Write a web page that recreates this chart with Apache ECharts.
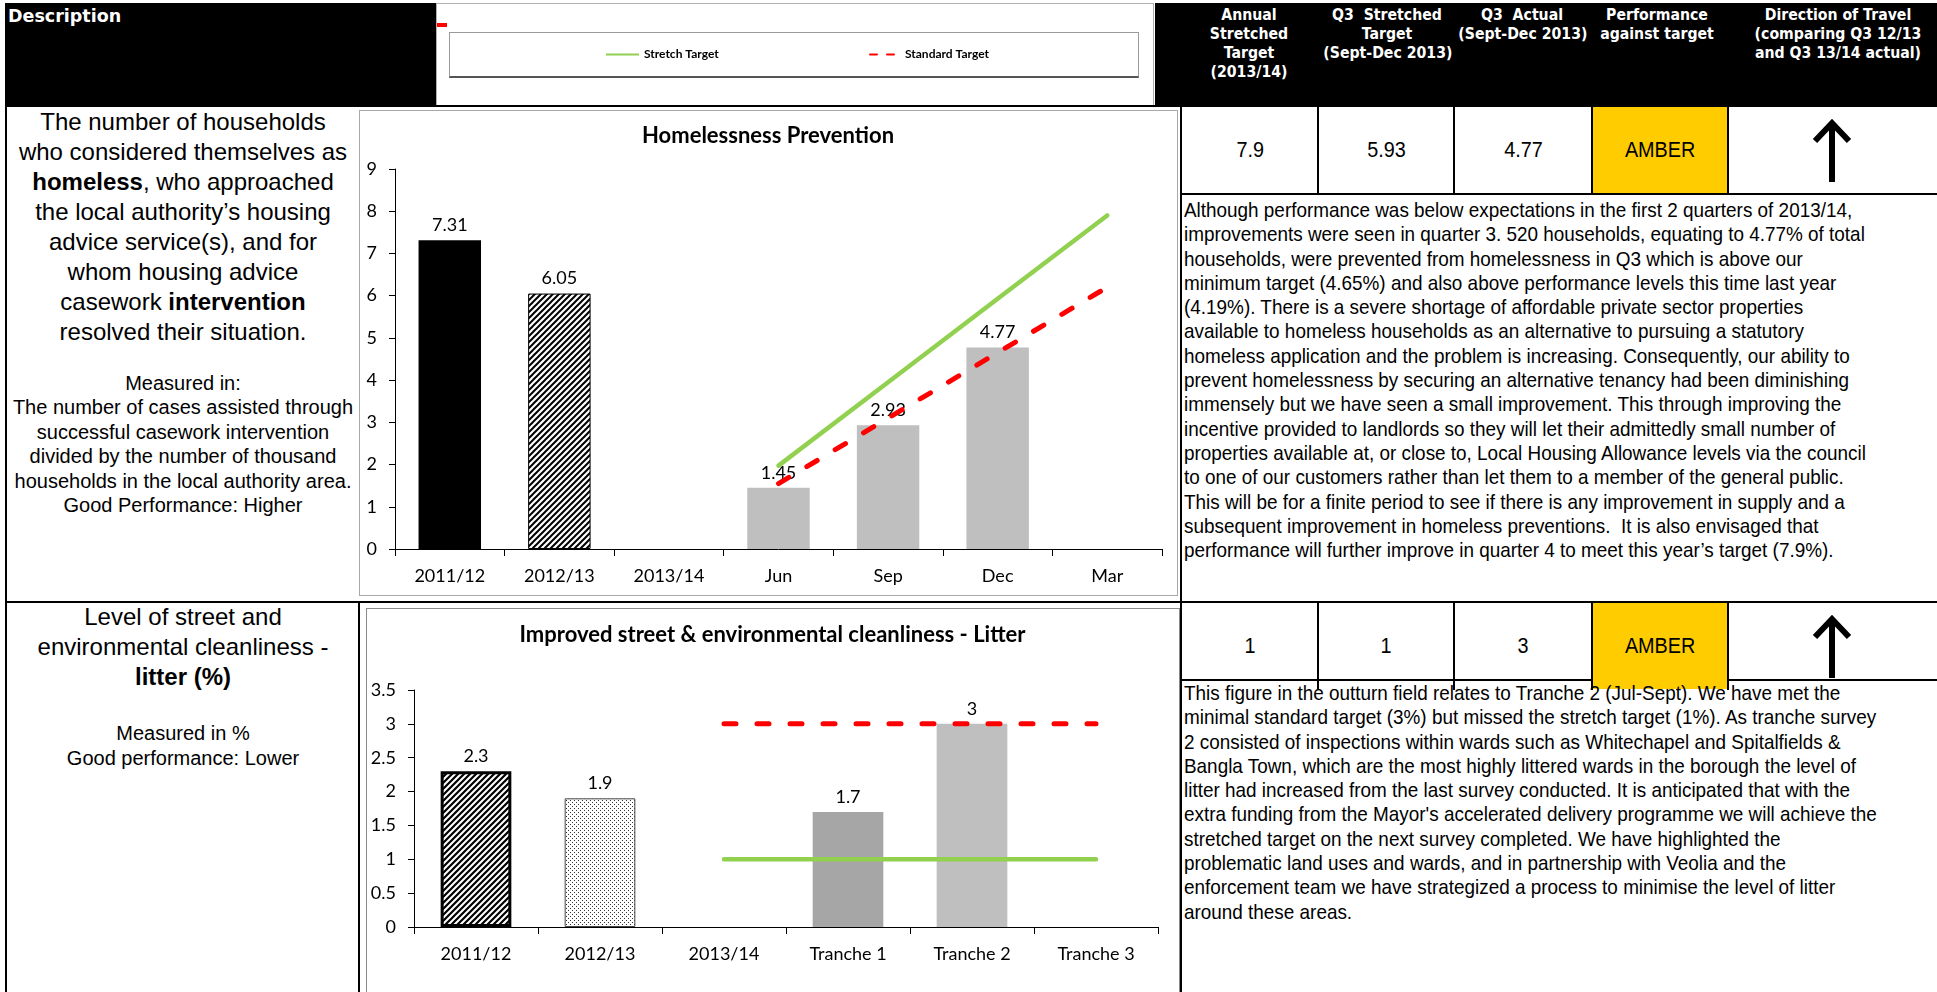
<!DOCTYPE html>
<html>
<head>
<meta charset="utf-8">
<title>Performance report</title>
<script src="https://cdn.jsdelivr.net/npm/echarts@6/dist/echarts.min.js"></script>
<style>
html,body{margin:0;padding:0;background:#fff;}
body{width:1937px;height:992px;overflow:hidden;position:relative;font-family:"Liberation Sans",Arial,sans-serif;color:#000;}
.a{position:absolute;}
.blk{background:#000;}
.hd{position:absolute;color:#fff;font-family:"DejaVu Sans",Verdana,sans-serif;font-weight:bold;font-size:15.5px;line-height:19px;text-align:center;white-space:nowrap;transform:scaleX(0.91);}
.desc{position:absolute;left:7px;width:352px;text-align:center;white-space:nowrap;}
.cell{position:absolute;display:flex;align-items:center;justify-content:center;font-size:22px;}
.cell span{display:inline-block;transform:scaleX(0.9);}
.amber{background:#FFCC00;}
.para{position:absolute;left:1184px;font-size:21px;line-height:24.3px;white-space:nowrap;transform:scaleX(0.9);transform-origin:0 0;}
.frame{position:absolute;box-sizing:border-box;border:1px solid #a8a8a8;pointer-events:none;}
</style>
</head>
<body>

<!-- header -->
<div class="a blk" style="left:5px;top:3px;width:431px;height:104px;"></div>
<div class="a blk" style="left:1155px;top:3px;width:782px;height:104px;"></div>
<div class="a" style="left:436px;top:3px;width:718px;height:102px;box-sizing:border-box;border:1px solid #b0b0b0;border-bottom:none;"></div>
<div class="a" style="left:437px;top:23px;width:10px;height:4px;background:#ff0000;"></div>
<div class="hd" style="left:8px;top:5px;text-align:left;font-size:17.5px;line-height:22px;transform:none;">Description</div>
<div class="hd" style="left:1179px;width:140px;top:6px;">Annual<br>Stretched<br>Target<br>(2013/14)</div>
<div class="hd" style="left:1317px;width:140px;top:6px;">Q3&nbsp; Stretched<br>Target<br>(Sept-Dec 2013)</div>
<div class="hd" style="left:1452px;width:140px;top:6px;">Q3&nbsp; Actual<br>(Sept-Dec 2013)</div>
<div class="hd" style="left:1587px;width:140px;top:6px;">Performance<br>against target</div>
<div class="hd" style="left:1738px;width:200px;top:6px;">Direction of Travel<br>(comparing Q3 12/13<br>and Q3 13/14 actual)</div>

<!-- legend box -->
<div id="legend" class="a" style="left:449px;top:32px;width:690px;height:45px;"></div>
<div class="frame" style="left:449px;top:32px;width:690px;height:46px;border-color:#9a9a9a;border-bottom:2px solid #555;"></div>

<!-- grid lines of the table -->
<div class="a blk" style="left:5px;top:105px;width:1932px;height:2px;"></div>
<div class="a blk" style="left:5px;top:601px;width:1932px;height:2px;"></div>
<div class="a blk" style="left:5px;top:105px;width:2px;height:890px;"></div>
<div class="a blk" style="left:358px;top:601px;width:2px;height:394px;"></div>
<div class="a blk" style="left:1180px;top:105px;width:2px;height:890px;"></div>
<div class="a blk" style="left:1181px;top:193px;width:756px;height:2px;"></div>
<div class="a blk" style="left:1181px;top:679px;width:756px;height:2px;"></div>

<!-- charts -->
<div id="hp" class="a" style="left:359px;top:110px;width:818px;height:485px;"></div>
<div class="frame" style="left:359px;top:110px;width:819px;height:486px;"></div>
<div id="lit" class="a" style="left:366px;top:608px;width:813px;height:387px;"></div>
<div class="frame" style="left:366px;top:608px;width:814px;height:400px;border-color:#8a8a8a;"></div>

<!-- descriptions -->
<div class="desc" style="top:107px;font-size:24px;line-height:30px;">The number of households<br>who considered themselves as<br><b>homeless</b>, who approached<br>the local authority’s housing<br>advice service(s), and for<br>whom housing advice<br>casework <b>intervention</b><br>resolved their situation.</div>
<div class="desc" style="top:371px;font-size:20px;line-height:24.4px;">Measured in:<br>The number of cases assisted through<br>successful casework intervention<br>divided by the number of thousand<br>households in the local authority area.<br>Good Performance: Higher</div>
<div class="desc" style="top:602px;font-size:24px;line-height:30px;">Level of street and<br>environmental cleanliness -<br><b>litter (%)</b></div>
<div class="desc" style="top:721px;font-size:20px;line-height:25px;">Measured in %<br>Good performance: Lower</div>

<div id="cells"></div>

<div class="para" style="top:198px;">Although performance was below expectations in the first 2 quarters of 2013/14,<br>improvements were seen in quarter 3. 520 households, equating to 4.77% of total<br>households, were prevented from homelessness in Q3 which is above our<br>minimum target (4.65%) and also above performance levels this time last year<br>(4.19%). There is a severe shortage of affordable private sector properties<br>available to homeless households as an alternative to pursuing a statutory<br>homeless application and the problem is increasing. Consequently, our ability to<br>prevent homelessness by securing an alternative tenancy had been diminishing<br>immensely but we have seen a small improvement. This through improving the<br>incentive provided to landlords so they will let their admittedly small number of<br>properties available at, or close to, Local Housing Allowance levels via the council<br>to one of our customers rather than let them to a member of the general public.<br>This will be for a finite period to see if there is any improvement in supply and a<br>subsequent improvement in homeless preventions.&nbsp; It is also envisaged that<br>performance will further improve in quarter 4 to meet this year’s target (7.9%).</div>
<div class="para" style="top:681px;">This figure in the outturn field relates to Tranche 2 (Jul-Sept). We have met the<br>minimal standard target (3%) but missed the stretch target (1%). As tranche survey<br>2 consisted of inspections within wards such as Whitechapel and Spitalfields &amp;<br>Bangla Town, which are the most highly littered wards in the borough the level of<br>litter had increased from the last survey conducted. It is anticipated that with the<br>extra funding from the Mayor's accelerated delivery programme we will achieve the<br>stretched target on the next survey completed. We have highlighted the<br>problematic land uses and wards, and in partnership with Veolia and the<br>enforcement team we have strategized a process to minimise the level of litter<br>around these areas.</div>

<script>
// Homelessness prevention
const hpCats = ['2011/12', '2012/13', '2013/14', 'Jun', 'Sep', 'Dec', 'Mar'];
const hpActual = [7.31, 6.05, null, 1.45, 2.93, 4.77, null];
const hpStretch = [null, null, null, 1.975, 3.95, 5.925, 7.9];
const hpStandard = [null, null, null, 1.55, 3.1, 4.65, 6.2];
const hpTicks = [0, 9, 1];

// street cleanliness - litter
const litCats = ['2011/12', '2012/13', '2013/14', 'Tranche 1', 'Tranche 2', 'Tranche 3'];
const litActual = [2.3, 1.9, null, 1.7, 3, null];
const litStretch = [null, null, 1, 1, 1, 1];
const litStandard = [null, null, 3, 3, 3, 3];
const litTicks = [0, 3.5, 0.5];

// table cells
const annualTarget = ['7.9', '1'];
const q3Target = ['5.93', '1'];
const q3Actual = ['4.77', '3'];
const performance = ['AMBER', 'AMBER'];

const rowTops = [107, 603];
const cols = [1182, 1318, 1454, 1592, 1728, 1937];
let html = '';
rowTops.forEach(function (top, r) {
    const vals = [annualTarget[r], q3Target[r], q3Actual[r], performance[r]];
    vals.forEach(function (v, c) {
        const cls = c === 3 ? 'cell amber' : 'cell';
        html += '<div class="' + cls + '" style="left:' + cols[c] + 'px;top:' + top + 'px;width:' + (cols[c + 1] - cols[c]) + 'px;height:86px;"><span>' + v + '</span></div>';
        if (c > 0) html += '<div class="a blk" style="left:' + (cols[c] - 1) + 'px;top:' + top + 'px;width:2px;height:87px;"></div>';
    });
    html += '<div class="a blk" style="left:1727px;top:' + top + 'px;width:2px;height:87px;"></div>';
    // direction of travel arrow
    html += '<svg class="a" style="left:1812px;top:' + (top + 11) + 'px;" width="40" height="66"><path d="M20 64 V6 M3 23 L20 5 L37 23" stroke="#000" stroke-width="6" fill="none"/></svg>';
});
document.getElementById('cells').innerHTML = html;

const FONT = 'Lato';

function hatch(size, lw) {
    const c = document.createElement('canvas');
    c.width = c.height = size;
    const g = c.getContext('2d');
    g.fillStyle = '#fff';
    g.fillRect(0, 0, size, size);
    g.strokeStyle = '#000';
    g.lineWidth = lw;
    g.beginPath();
    g.moveTo(0, size); g.lineTo(size, 0);
    g.moveTo(-size / 2, size / 2); g.lineTo(size / 2, -size / 2);
    g.moveTo(size / 2, size * 1.5); g.lineTo(size * 1.5, size / 2);
    g.stroke();
    return c;
}
function dots() {
    const c = document.createElement('canvas');
    c.width = c.height = 4;
    const g = c.getContext('2d');
    g.fillStyle = '#fff';
    g.fillRect(0, 0, 4, 4);
    g.fillStyle = '#333';
    g.fillRect(0, 0, 1, 1);
    g.fillRect(2, 2, 1, 1);
    return c;
}

const grey = { color: '#BFBFBF' };
const hpStyles = [
    { color: '#000' },
    { color: { image: hatch(6, 2), repeat: 'repeat' }, borderColor: '#000', borderWidth: 1 },
    null, grey, grey, grey, null
];
const litStyles = [
    { color: { image: hatch(6, 2.2), repeat: 'repeat' }, borderColor: '#000', borderWidth: 3 },
    { color: { image: dots(), repeat: 'repeat' }, borderColor: '#444', borderWidth: 1 },
    null, { color: '#A6A6A6' }, grey, null
];

function barData(vals, styles) {
    return vals.map(function (v, i) {
        return v == null ? '-' : { value: v, itemStyle: styles[i] };
    });
}
function lineData(vals) {
    return vals.map(function (v) { return v == null ? '-' : v; });
}

function makeOption(title, cats, actual, styles, stretch, standard, ticks, grid, titleTop) {
    return {
        animation: false,
        backgroundColor: '#fff',
        textStyle: { fontFamily: FONT },
        title: {
            text: title,
            left: 'center',
            top: titleTop,
            textStyle: { fontFamily: FONT, fontWeight: 'bold', fontSize: 22, color: '#000' }
        },
        grid: Object.assign({ containLabel: false, outerBoundsMode: 'none' }, grid),
        xAxis: {
            type: 'category',
            data: cats,
            boundaryGap: true,
            axisLine: { show: true, lineStyle: { color: '#000', width: 1 } },
            axisTick: { show: true, length: 7, interval: 0, lineStyle: { color: '#000' } },
            axisLabel: { interval: 0, color: '#000', fontFamily: FONT, fontSize: 18, margin: 18 },
            splitLine: { show: false }
        },
        yAxis: {
            type: 'value',
            min: ticks[0],
            max: ticks[1],
            interval: ticks[2],
            axisLine: { show: true, lineStyle: { color: '#000', width: 1 } },
            axisTick: { show: true, length: 6, lineStyle: { color: '#000' } },
            axisLabel: { color: '#000', fontFamily: FONT, fontSize: 18, margin: 18 },
            splitLine: { show: false }
        },
        series: [
            {
                name: 'Actual',
                type: 'bar',
                barWidth: '57%',
                data: barData(actual, styles),
                label: { show: true, position: 'top', distance: 6, color: '#000', fontFamily: FONT, fontSize: 18 }
            },
            {
                name: 'Stretch Target',
                type: 'line',
                symbol: 'none',
                data: lineData(stretch),
                itemStyle: { color: '#92D050' },
                lineStyle: { color: '#92D050', width: 4.5, cap: 'round' },
                z: 3
            },
            {
                name: 'Standard Target',
                type: 'line',
                symbol: 'none',
                data: lineData(standard),
                itemStyle: { color: '#FF0000' },
                lineStyle: { color: '#FF0000', width: 5, type: [12, 21], cap: 'round' },
                z: 3
            }
        ]
    };
}

const hpChart = echarts.init(document.getElementById('hp'));
hpChart.setOption(makeOption('Homelessness Prevention', hpCats, hpActual, hpStyles, hpStretch, hpStandard, hpTicks,
    { left: 36, right: 15, top: 59, bottom: 46 }, 10));

const litChart = echarts.init(document.getElementById('lit'));
litChart.setOption(makeOption('Improved street & environmental cleanliness - Litter', litCats, litActual, litStyles, litStretch, litStandard, litTicks,
    { left: 48, right: 21, top: 82, bottom: 68 }, 11));

// legend strip in the header (its plot area sits outside the canvas)
const legendChart = echarts.init(document.getElementById('legend'));
const legendText = { fontFamily: FONT, fontWeight: 'bold', fontSize: 12, color: '#000' };
legendChart.setOption({
    animation: false,
    xAxis: { show: false, type: 'category', data: hpCats },
    yAxis: { show: false, type: 'value' },
    grid: { left: -200, top: -200, width: 20, height: 20 },
    legend: [
        {
            data: ['Stretch Target'], left: 151, top: 'middle', itemWidth: 33, itemHeight: 14,
            itemStyle: { opacity: 0 }, textStyle: legendText
        },
        {
            data: ['Standard Target'], left: 415, top: 'middle', itemWidth: 30, itemHeight: 14,
            itemStyle: { opacity: 0 }, lineStyle: { type: [7, 10] }, textStyle: legendText
        }
    ],
    series: [
        { name: 'Stretch Target', type: 'line', symbol: 'none', data: lineData(hpStretch),
          itemStyle: { color: '#92D050' }, lineStyle: { color: '#92D050', width: 3.5 } },
        { name: 'Standard Target', type: 'line', symbol: 'none', data: lineData(hpStandard),
          itemStyle: { color: '#FF0000' }, lineStyle: { color: '#FF0000', width: 3.5, type: [7, 10], cap: 'round' } }
    ]
});
</script>
</body>
</html>
